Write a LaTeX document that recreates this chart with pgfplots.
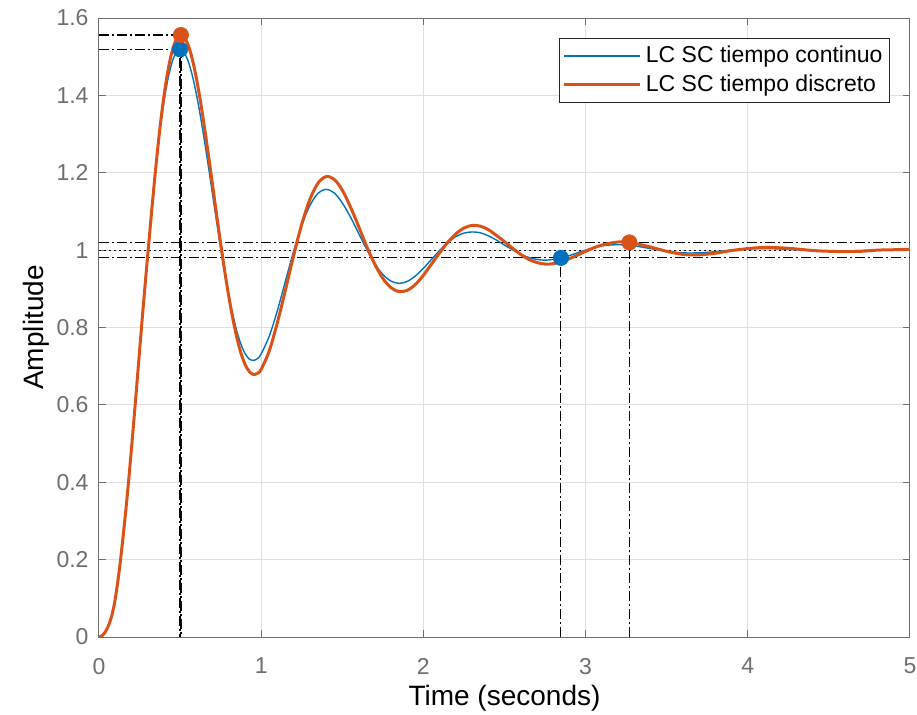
\documentclass[border=0pt]{standalone}
\usepackage{fontspec}
\setmainfont{Liberation Sans}
\usepackage{pgfplots}
\pgfplotsset{compat=1.18}
\definecolor{mblue}{RGB}{0,114,189}
\definecolor{morange}{RGB}{217,83,25}
\definecolor{tickgray}{RGB}{110,110,110}
\definecolor{gridgray}{RGB}{224,224,224}
\begin{document}
\begin{tikzpicture}
\begin{axis}[
  scale only axis, width=405.5pt, height=309.5pt,
  xmin=0, xmax=5, ymin=0, ymax=1.6,
  xtick={0,1,2,3,4,5},
  ytick={0,0.2,0.4,0.6,0.8,1,1.2,1.4,1.6},
  grid=major, major grid style={gridgray, line width=0.5pt},
  axis line style={tickgray, line width=0.5pt},
  tick style={tickgray, line width=0.5pt}, tick align=inside, major tick length=3.5pt,
  ticklabel style={font=\fontsize{11.5}{13}\selectfont, text=tickgray},
  /pgf/number format/assume math mode=true,
  xticklabel style={yshift=-7pt},
  yticklabel style={xshift=-1.7pt},
  xlabel={Time (seconds)}, ylabel={Amplitude},
  label style={font=\fontsize{14}{16}\selectfont},
  xlabel style={at={(axis description cs:0.5,0)}, anchor=base, yshift=-34pt},
  ylabel style={at={(axis description cs:-0.068,0.5)}, anchor=base},
  legend style={at={(axis description cs:0.9753,0.9677)}, anchor=north east,
    draw=black!85, line width=0.5pt, fill=white,
    font=\fontsize{11.5}{13}\selectfont, inner xsep=1.5pt, inner ysep=1.8pt,
    row sep=0.7pt, nodes={inner sep=2pt}},
  legend cell align=left,
  legend image code/.code={\draw[#1] (0pt,0pt) -- (38pt,0pt);},
]
% characteristic lines
\addplot[forget plot, black, line width=0.5pt, dash pattern=on 1pt off 1.5pt] coordinates {(0,1) (5,1)};
\addplot[forget plot, black, line width=0.5pt, dash pattern=on 5pt off 1.5pt on 1pt off 1.5pt] coordinates {(0,1.02) (5,1.02)};
\addplot[forget plot, black, line width=0.5pt, dash pattern=on 5pt off 1.5pt on 1pt off 1.5pt] coordinates {(0,0.98) (5,0.98)};
\addplot[forget plot, black, line width=0.6pt, dash pattern=on 5pt off 1.5pt on 1pt off 1.5pt] coordinates {(0,1.519) (0.5,1.519) (0.5,0)};
\addplot[forget plot, black, line width=0.6pt, dash pattern=on 5pt off 1.5pt on 1pt off 1.5pt] coordinates {(0,1.556) (0.505,1.556) (0.505,0)};
\addplot[forget plot, black, line width=0.5pt, dash pattern=on 5pt off 1.5pt on 1pt off 1.5pt] coordinates {(2.848,0) (2.848,0.98)};
\addplot[forget plot, black, line width=0.5pt, dash pattern=on 5pt off 1.5pt on 1pt off 1.5pt] coordinates {(3.27,0) (3.27,1.02)};
% continuous
\addplot[mblue, line width=0.7pt, smooth] coordinates {
(0,0) (0.02,0.004) (0.04,0.014) (0.06,0.031) (0.08,0.057) (0.1,0.098) (0.125,0.172) (0.15,0.265) (0.175,0.369) (0.2,0.486) (0.225,0.610) (0.25,0.739) (0.275,0.867) (0.3,0.991) (0.325,1.107) (0.35,1.213) (0.375,1.305) (0.4,1.382) (0.425,1.442) (0.45,1.485) (0.475,1.511) (0.5,1.519) (0.525,1.511) (0.55,1.488) (0.575,1.452) (0.6,1.404) (0.625,1.347) (0.65,1.283) (0.675,1.215) (0.7,1.144) (0.725,1.074) (0.75,1.005) (0.775,0.942) (0.8,0.884) (0.825,0.833) (0.85,0.790) (0.875,0.757) (0.9,0.733) (0.925,0.719) (0.95,0.715) (0.975,0.719) (1,0.732) (1.05,0.778) (1.1,0.844) (1.15,0.921) (1.2,0.997) (1.25,1.064) (1.3,1.115) (1.35,1.147) (1.4,1.157) (1.45,1.148) (1.5,1.122) (1.55,1.086) (1.6,1.044) (1.65,1.002) (1.7,0.965) (1.75,0.937) (1.8,0.920) (1.85,0.914) (1.9,0.919) (1.95,0.933) (2,0.953) (2.05,0.976) (2.1,0.999) (2.15,1.019) (2.2,1.035) (2.25,1.044) (2.3,1.047) (2.35,1.045) (2.4,1.037) (2.45,1.026) (2.5,1.013) (2.55,1.001) (2.6,0.989) (2.65,0.981) (2.7,0.976) (2.75,0.974) (2.8,0.976) (2.85,0.980) (2.9,0.986) (2.95,0.993) (3,1.000) (3.1,1.011) (3.2,1.014) (3.3,1.011) (3.4,1.004) (3.5,0.997) (3.6,0.993) (3.7,0.993) (3.8,0.996) (3.9,1.000) (4,1.003) (4.1,1.004) (4.2,1.003) (4.3,1.001) (4.4,0.999) (4.5,0.998) (4.6,0.998) (4.7,0.999) (4.8,1.000) (4.9,1.001) (5,1.001)
};
\addlegendentry{LC SC tiempo continuo}
% discrete
\addplot[morange, line width=1.5pt, smooth] coordinates {
(0,0) (0.02,0.004) (0.04,0.014) (0.06,0.031) (0.08,0.057) (0.1,0.098) (0.125,0.172) (0.15,0.265) (0.175,0.369) (0.2,0.486) (0.225,0.610) (0.25,0.739) (0.275,0.865) (0.3,0.985) (0.325,1.102) (0.35,1.213) (0.375,1.313) (0.4,1.397) (0.425,1.464) (0.45,1.513) (0.475,1.543) (0.5,1.556) (0.525,1.551) (0.55,1.530) (0.575,1.494) (0.6,1.445) (0.625,1.386) (0.65,1.318) (0.675,1.245) (0.7,1.169) (0.725,1.092) (0.75,1.018) (0.775,0.946) (0.8,0.881) (0.825,0.823) (0.85,0.774) (0.875,0.734) (0.9,0.705) (0.925,0.687) (0.95,0.679) (0.975,0.681) (1,0.692) (1.05,0.740) (1.1,0.813) (1.15,0.898) (1.2,0.986) (1.25,1.067) (1.3,1.131) (1.35,1.173) (1.4,1.190) (1.45,1.183) (1.5,1.155) (1.55,1.112) (1.6,1.062) (1.65,1.010) (1.7,0.964) (1.75,0.927) (1.8,0.903) (1.85,0.893) (1.9,0.896) (1.95,0.911) (2,0.935) (2.05,0.964) (2.1,0.993) (2.15,1.020) (2.2,1.042) (2.25,1.057) (2.3,1.064) (2.35,1.062) (2.4,1.053) (2.45,1.038) (2.5,1.022) (2.55,1.005) (2.6,0.989) (2.65,0.976) (2.7,0.968) (2.75,0.964) (2.8,0.965) (2.85,0.970) (2.9,0.978) (2.95,0.987) (3,0.997) (3.05,1.006) (3.1,1.013) (3.15,1.018) (3.2,1.021) (3.25,1.021) (3.3,1.018) (3.4,1.008) (3.5,0.997) (3.6,0.989) (3.7,0.988) (3.8,0.992) (3.9,0.999) (4,1.004) (4.1,1.007) (4.2,1.006) (4.3,1.003) (4.4,0.999) (4.5,0.997) (4.6,0.996) (4.7,0.997) (4.8,1.000) (4.9,1.001) (5,1.002)
};
\addlegendentry{LC SC tiempo discreto}
% characteristic points
\addplot[forget plot, only marks, mark=*, mark size=3.8pt, mark options={draw=mblue, fill=mblue}] coordinates {(0.5,1.519) (2.848,0.98)};
\addplot[forget plot, only marks, mark=*, mark size=3.8pt, mark options={draw=morange, fill=morange}] coordinates {(0.505,1.556) (3.27,1.02)};
\end{axis}
\pgfresetboundingbox
\path (-49.5pt,-38.5pt) rectangle (409pt,318.5pt);
\end{tikzpicture}
\end{document}
